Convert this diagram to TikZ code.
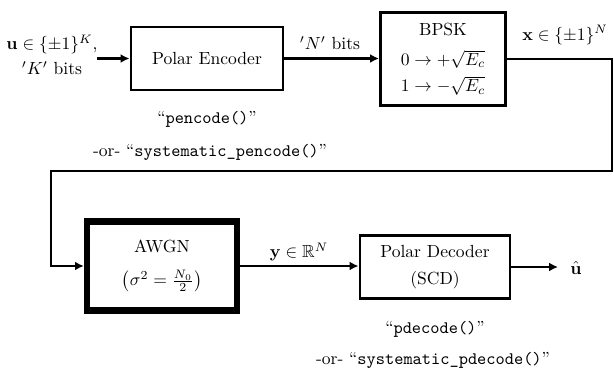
\documentclass[tikz,border=0pt]{standalone}
\usepackage{amsmath,amssymb}
\usetikzlibrary{arrows.meta}
\begin{document}
\begin{tikzpicture}[x=0.57pt,y=-0.57pt,
  blk/.style={draw,line width=1.7pt,minimum width={#1*0.57pt},inner sep=0pt,align=center},
  conn/.style={line width=1.7pt},
  arr/.style={conn,-{Latex[length=5pt,width=5pt]}},
  lbl/.style={inner sep=0pt,align=center}]
\useasboundingbox (0,0) rectangle (614,370);
\node[blk=152,minimum height={63*0.57pt}] (enc) at (207,58.5) {Polar Encoder};
\node[blk=125,minimum height={93*0.57pt}] (bpsk) at (443,59) {BPSK\\[5pt] $0\rightarrow+\sqrt{E_c}$\\[3pt] $1\rightarrow-\sqrt{E_c}$};
\node[blk=150,line width=3.6pt,minimum height={89*0.57pt}] (awgn) at (162,266) {AWGN\\[7pt] $\left(\sigma^2=\frac{N_0}{2}\right)$};
\node[blk=150,minimum height={63*0.57pt}] (dec) at (435,267) {Polar Decoder\\[3pt] (SCD)};
\coordinate (in) at (97,58.5);
\coordinate (out) at (558,267);
\coordinate (r) at (612,0);
\coordinate (lo) at (51,171);
\node[lbl] (inlbl) at (52,55) {$\mathbf{u}\in\{\pm1\}^K$,\\[2pt] $'K'$ bits};
\node[lbl] (nlbl) at (330,43) {$'N'$ bits};
\node[lbl] (xlbl) at (565,35) {$\mathbf{x}\in\{\pm1\}^N$};
\node[lbl] (ylbl) at (299,252) {$\mathbf{y}\in\mathbb{R}^N$};
\node[lbl,anchor=west] (uhat) at (570,268) {$\hat{\mathbf{u}}$};
\node[lbl] (pe1) at (207,119) {``\texttt{pencode()}''};
\node[lbl] (pe2) at (210,152) {-or- ``\texttt{systematic\_pencode()}''};
\node[lbl] (pd1) at (435,329) {``\texttt{pdecode()}''};
\node[lbl] (pd2) at (433,360) {-or- ``\texttt{systematic\_pdecode()}''};
\draw[arr] (in) -- (enc.west);
\draw[arr] (enc.east) -- (enc.east -| bpsk.west);
\draw[arr,line join=miter] (bpsk.east) -- (bpsk.east -| r) -- (lo -| r) -- (lo) -- (lo |- awgn.west) -- (awgn.west);
\draw[arr] (awgn.east) -- (awgn.east -| dec.west);
\draw[arr] (dec.east) -- (out);
\end{tikzpicture}
\end{document}
